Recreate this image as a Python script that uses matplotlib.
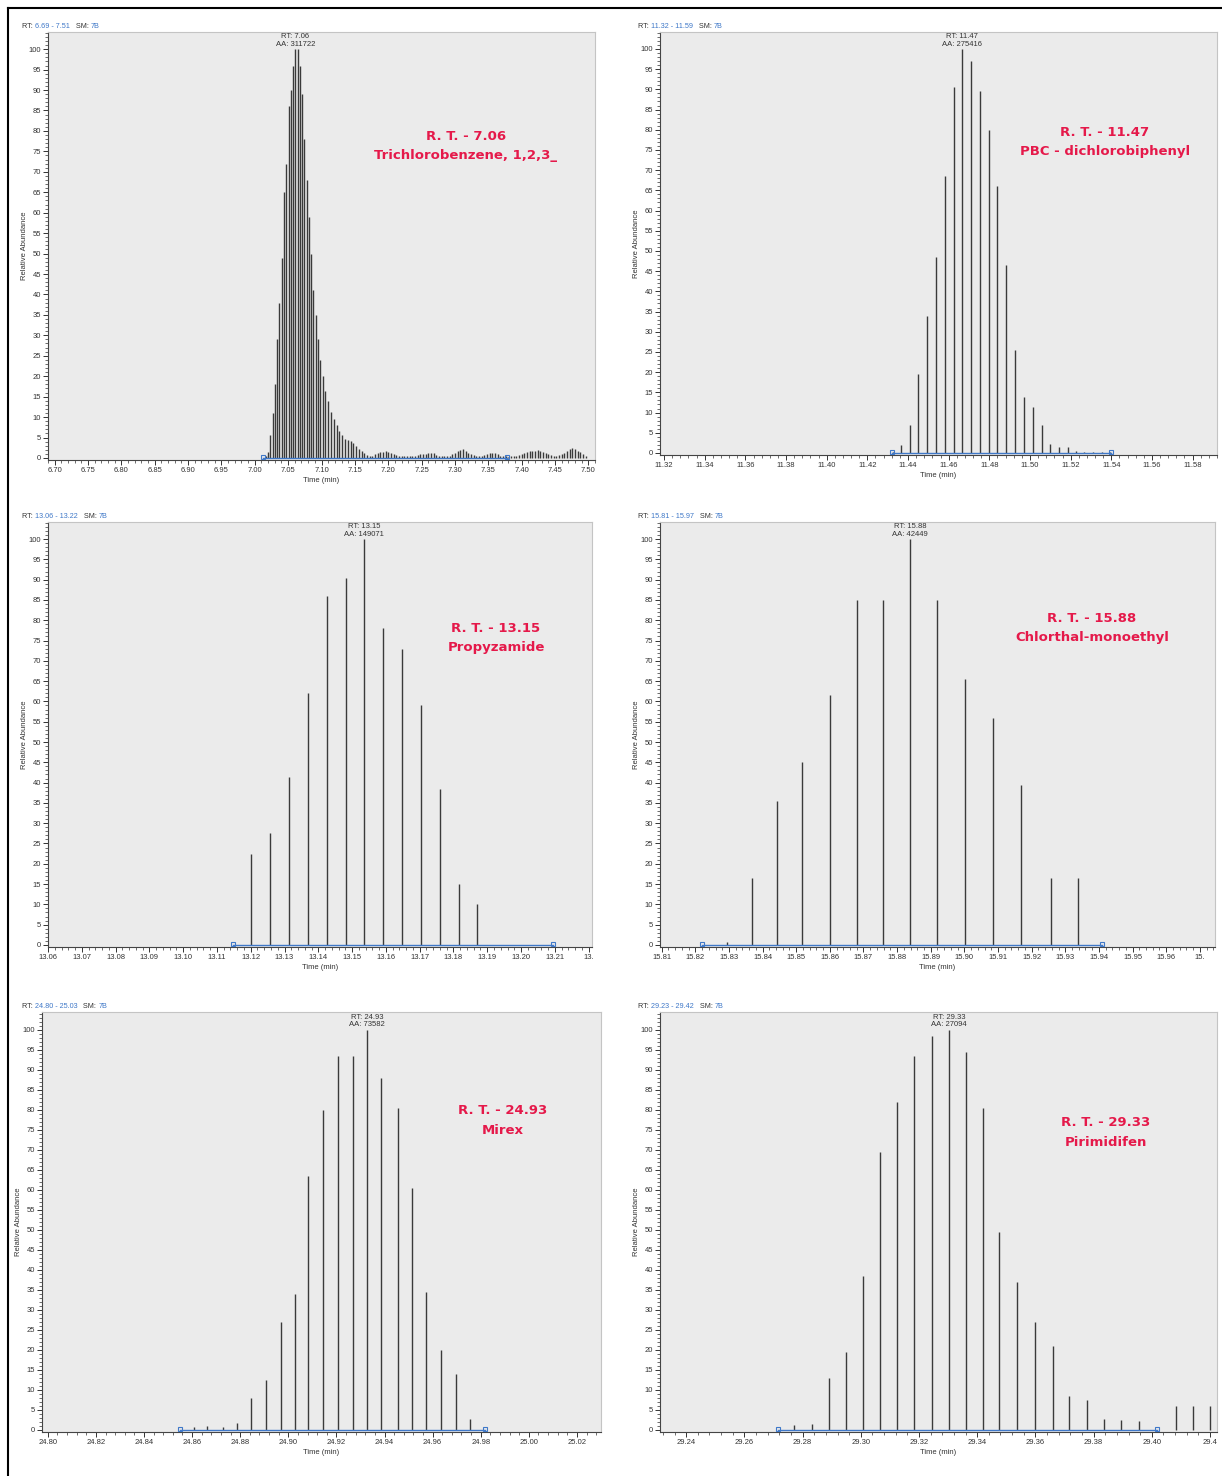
import matplotlib
matplotlib.use("Agg")
import matplotlib.pyplot as plt
from matplotlib import transforms
from matplotlib.ticker import MultipleLocator, AutoMinorLocator, FixedLocator, FixedFormatter
import numpy as np

W, H = 1222, 1476

# ---------------- data ----------------
# Panel 1 : Trichlorobenzene
p1_t = [7.0166, 7.0200, 7.0234, 7.0268, 7.0302, 7.0336, 7.0370, 7.0404, 7.0438, 7.0472,
        7.0506, 7.0540, 7.0574, 7.0608, 7.0642, 7.0676, 7.0710, 7.0744, 7.0778, 7.0812,
        7.0846, 7.0880, 7.0914, 7.0948, 7.0982, 7.1016, 7.1058, 7.1100, 7.1142, 7.1184,
        7.1226, 7.1268, 7.1310, 7.1352, 7.1394, 7.1436, 7.1478, 7.1520, 7.1562, 7.1604,
        7.164, 7.168, 7.172, 7.176, 7.180, 7.184, 7.188, 7.192, 7.196, 7.200,
        7.204, 7.208, 7.212, 7.216, 7.220, 7.224, 7.228, 7.232, 7.236, 7.240,
        7.244, 7.248, 7.252, 7.256, 7.260, 7.264, 7.268, 7.272, 7.276, 7.280,
        7.284, 7.288, 7.292, 7.296, 7.300, 7.304, 7.308, 7.312, 7.316, 7.320,
        7.324, 7.328, 7.332, 7.336, 7.340, 7.344, 7.348, 7.352, 7.356, 7.360,
        7.364, 7.368, 7.372, 7.376, 7.380, 7.384, 7.388, 7.392, 7.396, 7.400,
        7.404, 7.408, 7.412, 7.416, 7.420, 7.424, 7.428, 7.432, 7.436, 7.440,
        7.444, 7.448, 7.452, 7.456, 7.460, 7.464, 7.468, 7.472, 7.476, 7.480,
        7.484, 7.488, 7.492, 7.496]
p1_h = [0.6, 1.5, 5.5, 11, 18, 29, 38, 49, 65, 72,
        86, 90, 96, 100, 100, 96, 89, 78, 68, 59,
        50, 41, 35, 29, 24, 20, 16.3, 13.9, 11.2, 9.5,
        8.1, 6.5, 5.7, 4.6, 4.5, 4.1, 3.7, 2.9, 2.3, 1.8,
        1.2, 0.8, 0.6, 0.6, 1.0, 1.2, 1.4, 1.5, 1.6, 1.5,
        1.2, 0.9, 0.7, 0.6, 0.5, 0.6, 0.4, 0.5, 0.6, 0.5,
        0.7, 0.9, 1.0, 0.9, 1.2, 1.3, 1.1, 0.8, 0.6, 0.5,
        0.4, 0.5, 0.6, 0.9, 1.3, 1.7, 2.0, 2.2, 1.8, 1.3,
        0.9, 0.7, 0.5, 0.4, 0.5, 0.7, 1.0, 1.2, 1.3, 1.1,
        0.9, 0.6, 0.5, 0.4, 0.3, 0.4, 0.6, 0.5, 0.7, 1.0,
        1.3, 1.5, 1.7, 1.6, 1.8, 1.9, 1.7, 1.5, 1.3, 1.0,
        0.8, 0.6, 0.5, 0.7, 0.9, 1.2, 1.6, 2.1, 2.4, 2.2,
        1.8, 1.4, 1.0, 0.6]

# Panel 2 : PBC - dichlorobiphenyl
p2_t = [11.4325, 11.4365, 11.4409, 11.4448, 11.4492, 11.4537, 11.4581, 11.4625, 11.4664,
        11.4709, 11.4753, 11.4797, 11.4836, 11.4881, 11.4925, 11.4969, 11.5013, 11.5057,
        11.5097, 11.5141, 11.5185, 11.5225, 11.5268, 11.5310, 11.5352, 11.5395]
p2_h = [0.3, 2, 7, 19.5, 34, 48.5, 68.5, 90.5, 100,
        97, 89.5, 80, 66, 46.5, 25.5, 13.8, 11.5, 7,
        2.3, 1.6, 1.5, 0.5, 0.3, 0.3, 0.3, 0.2]

# Panel 3 : Propyzamide
p3_t = [13.1201, 13.1257, 13.1313, 13.1369, 13.1425, 13.1482, 13.1535,
        13.1591, 13.1647, 13.1704, 13.1760, 13.1816, 13.1869]
p3_h = [22.5, 27.5, 41.5, 62, 86, 90.5, 100, 78, 73, 59, 38.5, 15, 10]

# Panel 4 : Chlorthal-monoethyl
p4_t = [15.8293, 15.8368, 15.8442, 15.8518, 15.8600, 15.8680, 15.8759,
        15.8838, 15.8920, 15.9002, 15.9085, 15.9168, 15.9256, 15.9337]
p4_h = [0.8, 16.5, 35.5, 45, 61.5, 85, 85, 100, 85, 65.5, 56, 39.5, 16.5, 16.5]

# Panel 5 : Mirex
p5_t = [24.8607, 24.8663, 24.8728, 24.8786, 24.8846, 24.8909, 24.8970, 24.9029, 24.9083,
        24.9143, 24.9208, 24.9268, 24.9328, 24.9387, 24.9456, 24.9513, 24.9574, 24.9634,
        24.9696, 24.9756]
p5_h = [0.8, 1.0, 0.8, 1.7, 8, 12.6, 27, 34, 63.5,
        80, 93.5, 93.5, 100, 88, 80.5, 60.5, 34.5, 20,
        13.9, 2.7]

# Panel 6 : Pirimidifen
p6_t = [29.2769, 29.2831, 29.2890, 29.2948, 29.3007, 29.3066, 29.3124, 29.3183, 29.3245,
        29.3303, 29.3362, 29.3421, 29.3476, 29.3538, 29.3597, 29.3659, 29.3717, 29.3779,
        29.3834, 29.3893, 29.3955, 29.4083, 29.4141, 29.4200]
p6_h = [1.2, 1.5, 13, 19.5, 38.5, 69.5, 82, 93.5, 98.5,
        100, 94.5, 80.5, 49.5, 37, 27, 21, 8.5, 7.5,
        2.7, 2.5, 2.3, 6, 6, 6]

ranges = ["6.69 - 7.51", "11.32 - 11.59", "13.06 - 13.22", "15.81 - 15.97", "24.80 - 25.03", "29.23 - 29.42"]
peak_rt = ["7.06", "11.47", "13.15", "15.88", "24.93", "29.33"]
peak_aa = ["311722", "275416", "149071", "42449", "73582", "27094"]
titles = [("R. T. - 7.06", "Trichlorobenzene, 1,2,3_"),
          ("R. T. - 11.47", "PBC - dichlorobiphenyl"),
          ("R. T. - 13.15", "Propyzamide"),
          ("R. T. - 15.88", "Chlorthal-monoethyl"),
          ("R. T. - 24.93", "Mirex"),
          ("R. T. - 29.33", "Pirimidifen")]
xtick_vals = [
    [6.70, 6.75, 6.80, 6.85, 6.90, 6.95, 7.00, 7.05, 7.10, 7.15, 7.20, 7.25, 7.30, 7.35, 7.40, 7.45, 7.50],
    [11.32, 11.34, 11.36, 11.38, 11.40, 11.42, 11.44, 11.46, 11.48, 11.50, 11.52, 11.54, 11.56, 11.58],
    [13.06, 13.07, 13.08, 13.09, 13.10, 13.11, 13.12, 13.13, 13.14, 13.15, 13.16, 13.17, 13.18, 13.19, 13.20, 13.21, 13.22],
    [15.81, 15.82, 15.83, 15.84, 15.85, 15.86, 15.87, 15.88, 15.89, 15.90, 15.91, 15.92, 15.93, 15.94, 15.95, 15.96, 15.97],
    [24.80, 24.82, 24.84, 24.86, 24.88, 24.90, 24.92, 24.94, 24.96, 24.98, 25.00, 25.02],
    [29.24, 29.26, 29.28, 29.30, 29.32, 29.34, 29.36, 29.38, 29.40, 29.42],
]
xtick_labels = [
    ["6.70", "6.75", "6.80", "6.85", "6.90", "6.95", "7.00", "7.05", "7.10", "7.15", "7.20", "7.25", "7.30", "7.35", "7.40", "7.45", "7.50"],
    ["11.32", "11.34", "11.36", "11.38", "11.40", "11.42", "11.44", "11.46", "11.48", "11.50", "11.52", "11.54", "11.56", "11.58"],
    ["13.06", "13.07", "13.08", "13.09", "13.10", "13.11", "13.12", "13.13", "13.14", "13.15", "13.16", "13.17", "13.18", "13.19", "13.20", "13.21", "13."],
    ["15.81", "15.82", "15.83", "15.84", "15.85", "15.86", "15.87", "15.88", "15.89", "15.90", "15.91", "15.92", "15.93", "15.94", "15.95", "15.96", "15."],
    ["24.80", "24.82", "24.84", "24.86", "24.88", "24.90", "24.92", "24.94", "24.96", "24.98", "25.00", "25.02"],
    ["29.24", "29.26", "29.28", "29.30", "29.32", "29.34", "29.36", "29.38", "29.40", "29.4"],
]
xlims = [(6.69, 7.51), (11.318, 11.592), (13.06, 13.221), (15.8095, 15.9745), (24.7976, 25.030), (29.231, 29.4224)]
baselines = [(7.0126, 7.378), (11.4322, 11.5400), (13.1147, 13.2094), (15.8220, 15.9410), (24.8549, 24.9817), (29.2717, 29.4017)]

# ---------------- layout (pixel boxes: left, top, right, bottom) ----------------
boxes = [(48, 32, 595, 460), (660, 32, 1217, 455),
         (48, 522, 592, 947), (660, 522, 1215, 947),
         (42, 1012, 601, 1432), (660, 1012, 1217, 1432)]
ylims = [(-0.5, 104.2), (-0.5, 104.2), (-0.5, 104.2), (-0.5, 104.2), (-0.5, 104.4), (-0.5, 104.4)]
title_pos = [(466, 136), (1105, 133), (496, 628), (1092, 619), (503, 1111), (1106, 1123)]
header_pos = [(22, 27), (638, 27), (22, 517), (638, 517), (22, 1006), (638, 1006)]

series = [(p1_t, p1_h), (p2_t, p2_h), (p3_t, p3_h), (p4_t, p4_h), (p5_t, p5_h), (p6_t, p6_h)]

NARROW = ['Liberation Sans Narrow', 'Liberation Sans', 'DejaVu Sans']
plt.rcParams['font.family'] = NARROW

fig = plt.figure(figsize=(W / 100, H / 100), dpi=100)
fig.patch.set_facecolor('white')

RED = '#e5194a'
BLUE = '#3f78c8'
STICK = '#3a3a3a'
TXT = '#333333'

def fx(px):
    return px / W

def fy(py):
    return 1 - py / H

renderer = fig.canvas.get_renderer()

for i in range(6):
    l, t, r, b = boxes[i]
    ax = fig.add_axes([fx(l), fy(b), (r - l) / W, (b - t) / H])
    ax.set_facecolor('#ebebeb')
    tt, hh = series[i]
    ax.vlines(tt, 0, hh, color=STICK, lw=1.0)
    bl0, bl1 = baselines[i]
    ax.plot([bl0, bl1], [0, 0], color=BLUE, lw=1.0, zorder=3)
    ax.plot([bl0, bl1], [0.25, 0.25], ls='none', marker='s', ms=3.5, mfc='none', mec=BLUE, mew=0.8, zorder=4)
    ax.set_xlim(*xlims[i])
    ax.set_ylim(*ylims[i])
    ax.yaxis.set_major_locator(MultipleLocator(5))
    ax.yaxis.set_minor_locator(MultipleLocator(1))
    ax.xaxis.set_major_locator(FixedLocator(xtick_vals[i]))
    ax.xaxis.set_major_formatter(FixedFormatter(xtick_labels[i]))
    ax.xaxis.set_minor_locator(AutoMinorLocator(5))
    ax.tick_params(axis='both', which='major', labelsize=5.5, length=3.5, width=0.7, colors=TXT, pad=1.5)
    ax.tick_params(axis='both', which='minor', length=2, width=0.5, colors=TXT)
    for side in ['top', 'right']:
        ax.spines[side].set_color('#c4c4c4')
        ax.spines[side].set_linewidth(0.8)
    for side in ['left', 'bottom']:
        ax.spines[side].set_color('#444444')
        ax.spines[side].set_linewidth(0.8)
    ax.set_xlabel('Time (min)', fontsize=5.5, color=TXT, labelpad=2)
    ax.set_ylabel('Relative Abundance', fontsize=5.5, color=TXT, labelpad=0.5)
    # apex label
    k = int(np.argmax(hh))
    ax.text(tt[k], 100.3, f"RT: {peak_rt[i]}\nAA: {peak_aa[i]}", ha='center', va='bottom',
            fontsize=5.5, color=TXT, linespacing=1.1)
    # red annotation
    tx, ty = title_pos[i]
    fig.text(fx(tx), fy(ty), titles[i][0], ha='center', va='center', fontsize=9.5,
             fontweight='bold', color=RED, family='DejaVu Sans')
    fig.text(fx(tx), fy(ty + 19), titles[i][1], ha='center', va='center', fontsize=9.5,
             fontweight='bold', color=RED, family='DejaVu Sans')
    # header line: RT: range  SM: 7B
    hx, hy = header_pos[i]
    trans = fig.transFigure
    parts = [("RT: ", TXT), (ranges[i], BLUE), ("   SM: ", TXT), ("7B", BLUE)]
    x0 = fx(hx)
    for s, c in parts:
        txt = fig.text(x0, fy(hy), s, color=c, fontsize=5.2, va='center', ha='left', transform=trans)
        ex = txt.get_window_extent(renderer)
        trans = transforms.offset_copy(txt.get_transform(), fig=fig, x=ex.width, units='dots')

# outer frame
fig.add_artist(plt.Line2D([fx(8), fx(8)], [fy(8), fy(1475)], color='black', lw=1.5))
fig.add_artist(plt.Line2D([fx(8), fx(1222)], [fy(8), fy(8)], color='black', lw=1.5))

fig.savefig('out.png', dpi=100)
